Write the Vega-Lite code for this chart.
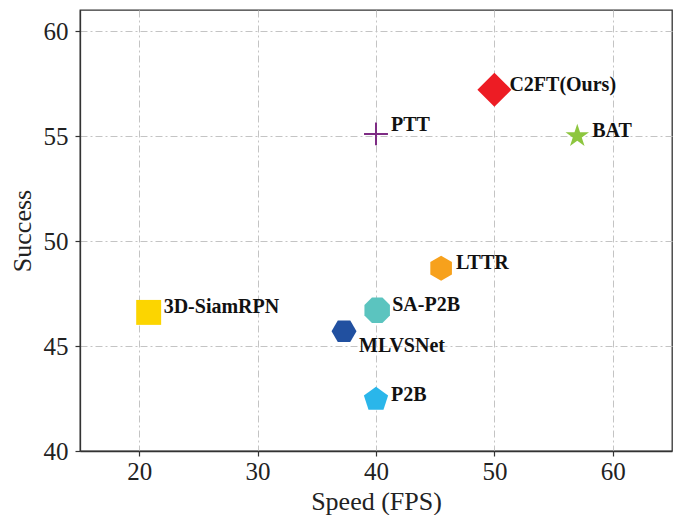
{
  "$schema": "https://vega.github.io/schema/vega-lite/v6.json",
  "autosize": "none",
  "width": 592,
  "height": 441,
  "padding": {"left": 80, "top": 10, "right": 1, "bottom": 64},
  "background": "white",
  "config": {
    "view": {"stroke": "#333333", "strokeWidth": 1.3},
    "font": "Liberation Serif",
    "axis": {
      "domain": true,
      "domainColor": "#333333",
      "domainWidth": 1.3,
      "grid": true,
      "gridColor": "#c4c4c4",
      "gridDash": [7, 3, 2, 3],
      "gridWidth": 1,
      "ticks": true,
      "tickSize": 5,
      "tickColor": "#333333",
      "tickWidth": 1.2,
      "labelFont": "Liberation Serif",
      "labelFontSize": 25,
      "labelColor": "#222222",
      "titleFont": "Liberation Serif",
      "titleFontSize": 26,
      "titleFontWeight": "normal",
      "titleColor": "#222222"
    }
  },
  "data": {
    "values": [
      {"name": "C2FT(Ours)", "speed": 50, "success": 57.2},
      {"name": "BAT", "speed": 57, "success": 55.0},
      {"name": "PTT", "speed": 40, "success": 55.1},
      {"name": "LTTR", "speed": 45.5, "success": 48.7},
      {"name": "3D-SiamRPN", "speed": 20.8, "success": 46.6},
      {"name": "SA-P2B", "speed": 40.1, "success": 46.7},
      {"name": "MLVSNet", "speed": 37.3, "success": 45.7},
      {"name": "P2B", "speed": 40, "success": 42.45}
    ]
  },
  "encoding": {
    "x": {
      "field": "speed", "type": "quantitative",
      "scale": {"domain": [15, 65], "nice": false, "zero": false},
      "axis": {"values": [20, 30, 40, 50, 60], "title": "Speed (FPS)", "labelPadding": 3, "titlePadding": 4}
    },
    "y": {
      "field": "success", "type": "quantitative",
      "scale": {"domain": [40, 61], "nice": false, "zero": false},
      "axis": {"values": [40, 45, 50, 55, 60], "title": "Success", "labelPadding": 7, "titlePadding": 8}
    }
  },
  "layer": [
    {
      "mark": {"type": "point", "filled": true, "opacity": 1, "size": 676, "strokeWidth": 0},
      "encoding": {
        "color": {
          "field": "name", "type": "nominal", "legend": null,
          "scale": {
            "domain": ["C2FT(Ours)", "BAT", "PTT", "LTTR", "3D-SiamRPN", "SA-P2B", "MLVSNet", "P2B"],
            "range": ["#ED1C24", "#8DC63F", "#7E2C84", "#F7A11C", "#FCD500", "#5BC4BF", "#2150A0", "#2AB6EA"]
          }
        },
        "shape": {
          "field": "name", "type": "nominal", "legend": null,
          "scale": {
            "domain": ["C2FT(Ours)", "BAT", "PTT", "LTTR", "3D-SiamRPN", "SA-P2B", "MLVSNet", "P2B"],
            "range": [
              "M0,-1.31L1.31,0L0,1.31L-1.31,0Z",
              "M0,-0.95L0.2134,-0.2937L0.9035,-0.2936L0.3452,0.1122L0.5584,0.7686L0,0.363L-0.5584,0.7686L-0.3452,0.1122L-0.9035,-0.2936L-0.2134,-0.2937Z",
              "M-0.92,-0.077L-0.077,-0.077L-0.077,-0.88L0.077,-0.88L0.077,-0.077L0.92,-0.077L0.92,0.077L0.077,0.077L0.077,0.88L-0.077,0.88L-0.077,0.077L-0.92,0.077Z",
              "M0,-0.96L0.831,-0.48L0.831,0.48L0,0.96L-0.831,0.48L-0.831,-0.48Z",
              "M-0.96,-0.96L0.96,-0.96L0.96,0.96L-0.96,0.96Z",
              "M0.405,-0.98L0.98,-0.405L0.98,0.405L0.405,0.98L-0.405,0.98L-0.98,0.405L-0.98,-0.405L-0.405,-0.98Z",
              "M0.96,0L0.48,0.831L-0.48,0.831L-0.96,0L-0.48,-0.831L0.48,-0.831Z",
              "M0,-0.98L0.932,-0.303L0.576,0.793L-0.576,0.793L-0.932,-0.303Z"
            ]
          }
        }
      }
    },
    {
      "transform": [{"filter": "datum.name !== 'MLVSNet' && datum.name !== 'PTT'"}],
      "mark": {"type": "text", "align": "left", "baseline": "middle", "dx": 15, "dy": -5, "font": "Liberation Serif", "fontWeight": "bold", "fontSize": 20, "color": "#111111"},
      "encoding": {"text": {"field": "name"}}
    },
    {
      "transform": [{"filter": "datum.name === 'PTT'"}],
      "mark": {"type": "text", "align": "left", "baseline": "middle", "dx": 15, "dy": -9, "font": "Liberation Serif", "fontWeight": "bold", "fontSize": 20, "color": "#111111"},
      "encoding": {"text": {"field": "name"}}
    },
    {
      "transform": [{"filter": "datum.name === 'MLVSNet'"}],
      "mark": {"type": "text", "align": "left", "baseline": "middle", "dx": 15, "dy": 15, "font": "Liberation Serif", "fontWeight": "bold", "fontSize": 20, "color": "#111111"},
      "encoding": {"text": {"field": "name"}}
    }
  ]
}
